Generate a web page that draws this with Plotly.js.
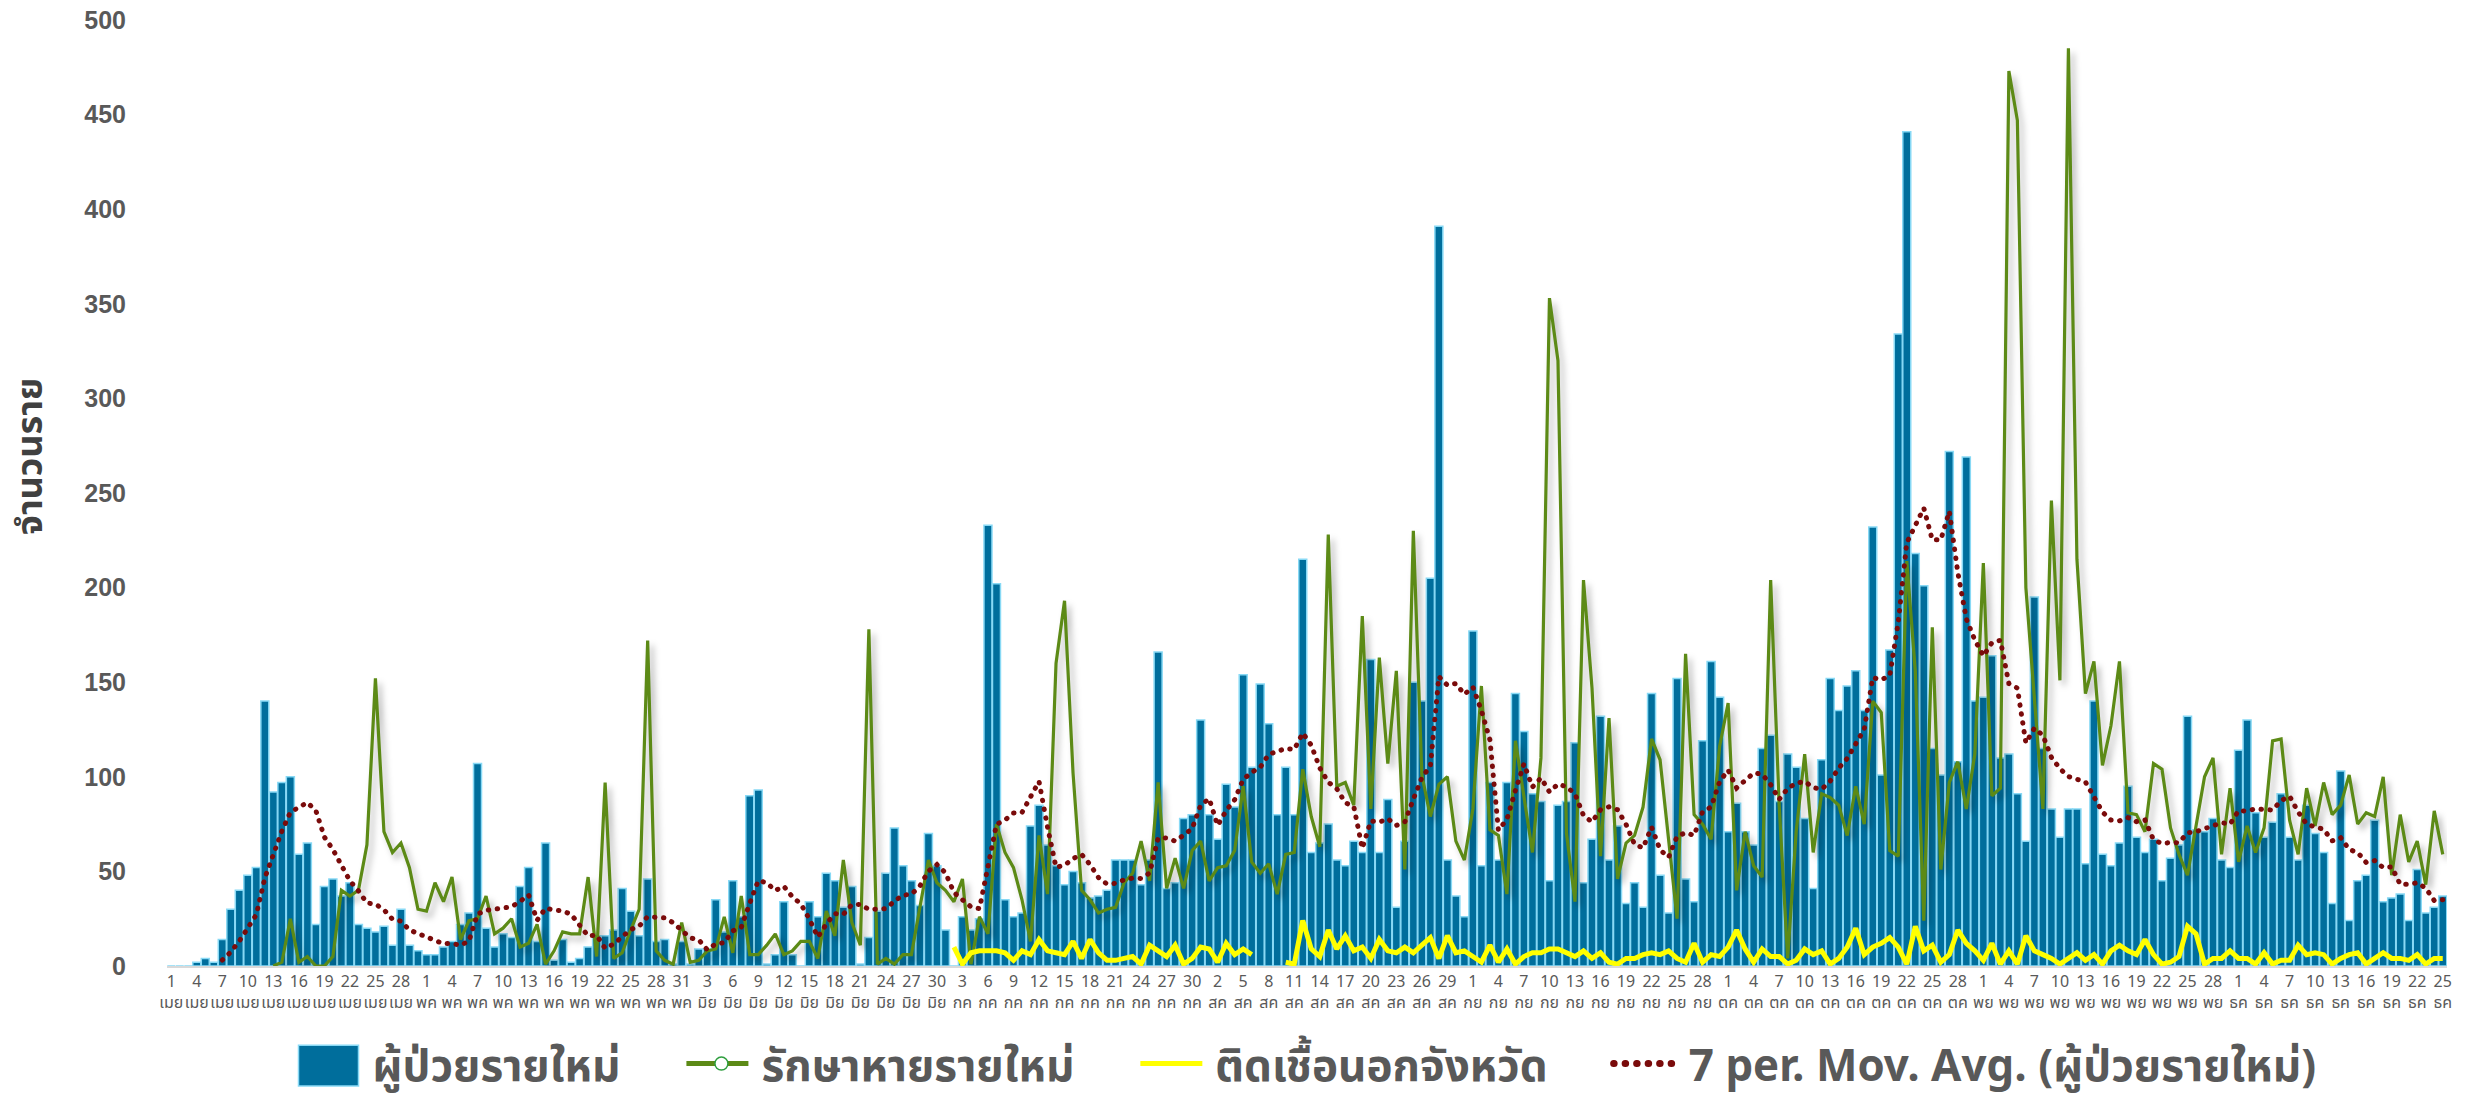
<!DOCTYPE html>
<html>
<head>
<meta charset="utf-8">
<script src="https://cdn.plot.ly/plotly-3.0.1.min.js"></script>
<style>
  html, body { margin: 0; padding: 0; background: #ffffff; }
  #chart { width: 2468px; height: 1109px; }
</style>
</head>
<body>
<div id="chart"></div>
<script>
// ---- Categories (one per reported day; Oct 31 is not in the series) ----
const monthNames = ['เมย', 'พค', 'มิย', 'กค', 'สค', 'กย', 'ตค', 'พย', 'ธค'];
const monthDayCounts = [30, 31, 30, 31, 31, 30, 30, 30, 25];

// ---- New patients (bars) ----
const newCases = [
  0,0,0,2,4,2,14,30,40,48,52,140,92,97,100,59,65,22,42,46,37,44,22,20,18,21,11,30,11,8,
  6,6,10,13,22,28,107,20,10,17,15,42,52,13,65,3,14,2,4,10,16,16,19,41,29,16,46,13,14,1,13,
  1,9,9,35,18,45,26,90,93,1,6,34,6,0,34,26,49,45,31,42,1,15,29,49,73,53,45,32,70,53,
  19,0,26,19,25,233,202,35,26,28,74,85,64,53,43,50,44,36,37,40,56,56,56,43,56,166,41,44,78,80,130,
  80,67,96,84,154,105,149,128,80,105,80,215,60,65,75,56,53,66,60,162,60,88,31,66,150,140,205,391,56,37,26,
  177,53,97,56,97,144,124,91,87,45,85,87,118,44,67,132,56,74,33,44,31,144,48,28,152,46,34,119,161,142,
  71,86,71,64,115,122,87,112,105,78,41,109,152,135,148,156,135,232,101,167,334,441,218,201,115,101,272,108,269,140,
  142,164,110,112,91,66,195,115,83,68,83,83,54,140,59,53,65,95,68,60,67,45,57,64,132,72,71,78,56,52,
  114,130,81,68,76,91,68,56,85,70,60,33,103,24,45,48,77,34,36,38,24,51,28,31,37
];

// ---- Recovered (green line) ----
const recovered = [
  null,null,null,null,null,null,null,null,null,null,null,null,0,2,25,2,5,0,0,5,40,37,40,64,152,71,60,65,52,30,
  29,44,34,47,14,24,25,37,17,20,25,10,12,22,1,8,18,17,17,47,5,97,4,7,19,30,172,8,3,1,23,
  2,3,8,9,26,7,37,6,6,11,17,6,8,13,13,4,29,16,56,23,11,178,1,4,1,6,6,31,56,44,
  40,34,46,1,26,17,75,60,52,35,13,69,38,160,193,102,40,35,28,30,31,44,49,66,45,97,41,57,41,61,66,
  45,52,53,61,95,55,49,54,38,59,60,104,79,63,228,95,97,85,185,83,163,107,156,51,230,101,79,96,100,66,56,
  83,148,72,69,38,119,89,60,110,353,320,70,34,204,147,58,131,46,65,69,84,120,109,65,25,165,80,75,67,116,
  139,40,71,53,47,204,85,4,71,112,60,91,89,85,69,95,75,140,134,61,58,214,156,24,179,51,97,108,83,112,
  213,90,94,473,447,200,140,83,246,151,485,215,144,161,106,127,161,81,80,71,107,104,73,59,48,75,100,110,59,94,
  55,74,60,73,119,120,77,59,94,74,97,80,85,101,75,81,79,100,48,80,55,66,43,82,59
];

// ---- Infected outside the province (yellow line) ----
const outsideProvince = [
  null,null,null,null,null,null,null,null,null,null,null,null,null,null,null,null,null,null,null,null,null,null,null,null,null,null,null,null,null,null,
  null,null,null,null,null,null,null,null,null,null,null,null,null,null,null,null,null,null,null,null,null,null,null,null,null,null,null,null,null,null,null,
  null,null,null,null,null,null,null,null,null,null,null,null,null,null,null,null,null,null,null,null,null,null,null,null,null,null,null,null,null,null,
  null,10,1,7,8,8,8,7,3,8,6,14,8,7,6,13,4,14,7,3,3,4,5,1,11,8,5,11,1,4,10,
  9,2,12,6,9,6,null,null,null,2,1,24,9,5,19,9,16,8,10,4,14,8,7,10,7,11,15,4,16,7,8,
  5,2,11,2,9,1,5,7,7,9,9,7,5,8,4,7,2,1,4,4,6,7,6,8,4,2,12,2,6,5,
  10,19,9,2,9,5,5,1,3,9,6,8,1,4,10,20,6,10,12,15,10,1,21,8,11,2,6,19,12,8,
  3,12,1,8,1,16,8,6,4,1,4,7,3,6,1,8,11,8,6,14,6,1,2,5,21,17,1,4,4,8,
  4,4,1,7,1,3,3,11,6,7,6,1,4,6,7,1,4,7,4,4,3,6,1,4,4
];

// ---- Build category labels ----
const dates = [];
const tickVals = [];
const tickText = [];
monthNames.forEach(function (m, mi) {
  for (let d = 1; d <= monthDayCounts[mi]; d++) {
    const label = d + ' ' + m;
    if (dates.length % 3 === 0) { tickVals.push(label); tickText.push(d + '<br>' + m); }
    dates.push(label);
  }
});

// 7-period moving average of the new patients (Excel trendline definition)
const movAvg = newCases.map(function (v, i) {
  if (i < 6) return null;
  let s = 0;
  for (let k = i - 6; k <= i; k++) s += newCases[k];
  return s / 7;
});

const thaiFont = '"Noto Sans Thai", "Noto Sans Thai UI", Loma, Garuda, "Noto Sans", "DejaVu Sans", sans-serif';
const greenColor = '#5c8a16';
const maColor = '#7a0b0b';

const traces = [
  {
    type: 'bar', name: 'ผู้ป่วยรายใหม่', x: dates, y: newCases,
    marker: { color: '#006e9c', line: { color: '#88d9f5', width: 1.5 } },
    legendrank: 1, hoverinfo: 'x+y'
  },
  {
    type: 'scatter', mode: 'lines', name: 'รักษาหายรายใหม่', x: dates, y: recovered,
    line: { color: greenColor, width: 3.2 }, showlegend: false, connectgaps: false
  },
  {
    type: 'scatter', mode: 'lines', name: 'ติดเชื้อนอกจังหวัด', x: dates, y: outsideProvince,
    line: { color: '#ffff00', width: 5 }, legendrank: 3, connectgaps: false
  },
  {
    type: 'scatter', mode: 'lines', name: '7 per. Mov. Avg. (ผู้ป่วยรายใหม่)', x: dates, y: movAvg,
    line: { color: maColor, width: 5, dash: '4px,5px' }, legendrank: 4
  },
  {
    type: 'scatter', mode: 'lines+markers', name: 'รักษาหายรายใหม่', x: [null], y: [null],
    line: { color: greenColor, width: 5 },
    marker: { symbol: 'circle', size: 13, color: '#ffffff', line: { color: '#2e9e3e', width: 1.5 } },
    legendrank: 2, hoverinfo: 'skip'
  }
];

const layout = {
  width: 2468, height: 1109,
  margin: { l: 167, r: 21, t: 20, b: 143 },
  paper_bgcolor: '#ffffff', plot_bgcolor: '#ffffff',
  bargap: 0.06,
  showlegend: true,
  legend: {
    orientation: 'h', x: 0.5, xanchor: 'center', y: -0.12, yanchor: 'bottom',
    font: { family: thaiFont, size: 44, color: '#595959', weight: 'bold' },
    itemwidth: 70, traceorder: 'normal', borderwidth: 0, bgcolor: 'rgba(0,0,0,0)'
  },
  annotations: [{
    text: 'จำนวนราย', xref: 'paper', yref: 'paper', x: -0.0596, y: 0.539,
    xanchor: 'center', yanchor: 'middle', textangle: -90, showarrow: false,
    font: { family: thaiFont, size: 36, color: '#404040', weight: 'bold' }
  }],
  xaxis: {
    type: 'category', range: [-0.5, dates.length - 0.5],
    tickmode: 'array', tickvals: tickVals, ticktext: tickText, tickangle: 0,
    tickfont: { family: thaiFont, size: 16, color: '#595959' },
    showline: true, linecolor: '#d9d9d9', linewidth: 2,
    showgrid: false, zeroline: false, ticks: '', fixedrange: true
  },
  yaxis: {
    range: [0, 500], dtick: 50, tick0: 0,
    showgrid: false, zeroline: false, showline: false, ticks: '',
    tickfont: { family: '"Liberation Sans", Arial, sans-serif', size: 25, color: '#595959', weight: 'bold' },
    ticklabelstandoff: 40
  }
};

Plotly.newPlot('chart', traces, layout, { displayModeBar: false, staticPlot: true }).then(function () {
  const lines = document.querySelectorAll('.scatterlayer .trace');
  if (lines[0]) lines[0].style.filter = 'drop-shadow(4px 5px 3px rgba(0,0,0,0.28))';
  if (lines[2]) {
    lines[2].querySelectorAll('path.js-line').forEach(function (p) {
      p.style.strokeLinecap = 'round';
      p.style.strokeDasharray = '0.5px,8.5px';
    });
  }
  // enlarge the legend symbols to the reference's proportions
  document.querySelectorAll('.legend .traces').forEach(function (g) {
    g.querySelectorAll('path').forEach(function (p) {
      const d = p.getAttribute('d') || '';
      if (/^M5,0h/.test(d)) {
        p.setAttribute('d', 'M5,0h62');
        if (p.style.strokeDasharray || (p.getAttribute('style') || '').indexOf('dasharray') >= 0) {
          p.style.strokeLinecap = 'round';
          p.style.strokeDasharray = '0.5px,11px';
          p.style.strokeWidth = '7px';
        }
      } else if (d.indexOf('M6,6H-6V-6H6Z') === 0) {
        p.setAttribute('transform', 'translate(36,2) scale(5,3.4)');
        p.setAttribute('vector-effect', 'non-scaling-stroke');
      } else {
        const t = p.getAttribute('transform') || '';
        if (t.indexOf('translate(20') === 0) p.setAttribute('transform', 'translate(36,0)');
      }
    });
  });
  const tr = /translate\(\s*([-\d.]+)[ ,]+([-\d.]+)\s*\)/;
  const leg = document.querySelector('g.legend');
  if (leg) {
    leg.querySelectorAll('[clip-path]').forEach(function (el) { el.removeAttribute('clip-path'); });
    // widen the gaps between legend entries as in the reference
    const gap = 56;
    const items = Array.prototype.slice.call(leg.querySelectorAll('g.traces'));
    items.sort(function (a, b) {
      const ma = tr.exec(a.getAttribute('transform') || ''), mb = tr.exec(b.getAttribute('transform') || '');
      return (ma ? parseFloat(ma[1]) : 0) - (mb ? parseFloat(mb[1]) : 0);
    });
    items.forEach(function (g, k) {
      const m = tr.exec(g.getAttribute('transform') || '');
      if (m) g.setAttribute('transform', 'translate(' + (parseFloat(m[1]) + k * gap) + ',' + m[2] + ')');
    });
    // lower the legend toward the reference position while keeping it inside the picture
    const m = tr.exec(leg.getAttribute('transform') || '');
    if (m) leg.setAttribute('transform', 'translate(' + (parseFloat(m[1]) - (items.length - 1) * gap / 2) + ',' + (parseFloat(m[2]) + 20) + ')');
  }
});
</script>
</body>
</html>
